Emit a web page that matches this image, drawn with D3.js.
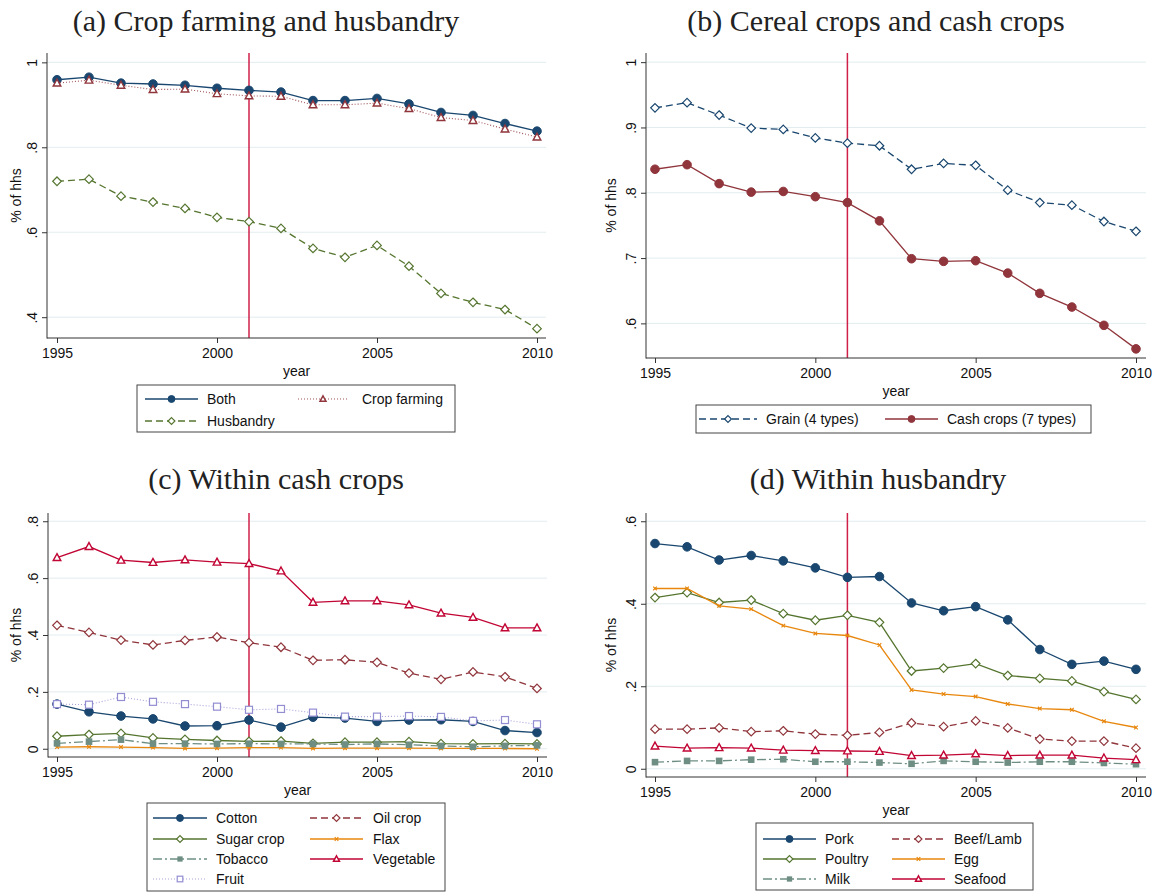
<!DOCTYPE html>
<meta charset="utf-8">
<style>
  body { margin: 0; background: #fff; }
  svg text { font-family: "Liberation Sans", Arial, sans-serif; font-size: 14px; fill: #111; }
  svg text.title { font-family: "Liberation Serif", "Times New Roman", serif; font-size: 30px; fill: #222; }
</style>
<body>
<script src="https://d3js.org/d3.v7.min.js"></script>
<script>

// ---- data ----
var years = [1995, 1996, 1997, 1998, 1999, 2000, 2001, 2002, 2003, 2004, 2005, 2006, 2007, 2008, 2009, 2010];

// (a) crop farming and husbandry
var both        = [0.959, 0.965, 0.951, 0.949, 0.946, 0.939, 0.934, 0.930, 0.910, 0.910, 0.915, 0.902, 0.882, 0.875, 0.856, 0.838];
var cropFarming = [0.951, 0.958, 0.946, 0.936, 0.937, 0.926, 0.921, 0.920, 0.900, 0.900, 0.904, 0.891, 0.870, 0.863, 0.843, 0.824];
var husbandry   = [0.720, 0.725, 0.685, 0.671, 0.656, 0.635, 0.625, 0.609, 0.562, 0.541, 0.569, 0.520, 0.456, 0.435, 0.418, 0.373];

// (b) cereal crops and cash crops
var grain     = [0.930, 0.938, 0.919, 0.899, 0.897, 0.884, 0.876, 0.872, 0.836, 0.845, 0.842, 0.804, 0.785, 0.781, 0.756, 0.741];
var cashCrops = [0.836, 0.843, 0.814, 0.801, 0.802, 0.794, 0.785, 0.757, 0.699, 0.695, 0.696, 0.677, 0.646, 0.625, 0.597, 0.561];

// (c) within cash crops
var cotton    = [0.157, 0.130, 0.115, 0.105, 0.080, 0.081, 0.101, 0.076, 0.111, 0.108, 0.096, 0.101, 0.102, 0.096, 0.064, 0.057];
var oilCrop   = [0.434, 0.409, 0.382, 0.365, 0.381, 0.393, 0.373, 0.357, 0.311, 0.313, 0.304, 0.266, 0.244, 0.270, 0.253, 0.212];
var sugarCrop = [0.044, 0.050, 0.054, 0.038, 0.033, 0.029, 0.026, 0.027, 0.019, 0.023, 0.023, 0.025, 0.018, 0.017, 0.018, 0.017];
var flax      = [0.006, 0.007, 0.006, 0.004, 0.001, 0.002, 0.004, 0.004, 0.001, 0.002, 0.002, 0.002, 0.001, 0.001, 0.001, 0.000];
var tobacco   = [0.019, 0.025, 0.032, 0.018, 0.018, 0.017, 0.018, 0.017, 0.017, 0.015, 0.017, 0.014, 0.010, 0.007, 0.010, 0.012];
var vegetable = [0.672, 0.711, 0.663, 0.655, 0.664, 0.656, 0.651, 0.625, 0.515, 0.520, 0.520, 0.506, 0.477, 0.462, 0.425, 0.425];
var fruit     = [0.157, 0.155, 0.182, 0.165, 0.157, 0.148, 0.137, 0.140, 0.127, 0.113, 0.113, 0.115, 0.112, 0.098, 0.101, 0.086];

// (d) within husbandry
var pork      = [0.546, 0.538, 0.506, 0.517, 0.504, 0.487, 0.464, 0.466, 0.402, 0.383, 0.393, 0.361, 0.289, 0.253, 0.261, 0.241];
var beefLamb  = [0.096, 0.096, 0.099, 0.090, 0.092, 0.084, 0.081, 0.088, 0.111, 0.102, 0.116, 0.099, 0.072, 0.067, 0.067, 0.050];
var poultry   = [0.415, 0.427, 0.403, 0.409, 0.376, 0.360, 0.372, 0.355, 0.237, 0.244, 0.255, 0.226, 0.219, 0.213, 0.187, 0.168];
var egg       = [0.437, 0.437, 0.395, 0.387, 0.347, 0.328, 0.323, 0.300, 0.191, 0.181, 0.175, 0.157, 0.146, 0.143, 0.115, 0.100];
var milk      = [0.016, 0.019, 0.019, 0.022, 0.023, 0.017, 0.017, 0.015, 0.012, 0.019, 0.017, 0.015, 0.017, 0.017, 0.014, 0.011];
var seafood   = [0.055, 0.050, 0.051, 0.050, 0.045, 0.044, 0.043, 0.042, 0.032, 0.033, 0.036, 0.032, 0.033, 0.033, 0.026, 0.022];

var xTicks = [1995, 2000, 2005, 2010];
var reformYear = 2001;

// stata s2color-ish palette
var navy = "#1a476f", maroon = "#90353b", green = "#55752f", orange = "#e8870e",
    teal = "#6e8e84", cranberry = "#c10534", lavender = "#938dd2";
var gridColor = "#e2ecef", vlineColor = "#cf2148";

var svg = d3.select("body").append("svg")
  .attr("width", 1156)
  .attr("height", 892);

function fmtY(v) {
  if (v === 0) return "0";
  if (v === 1) return "1";
  return d3.format(".1f")(v).replace(/^0/, "");
}

// draws one marker centred at (cx, cy); k scales it (legend keys are smaller)
function marker(g, type, cx, cy, color, k) {
  k = k || 1;
  if (type === "circle") {
    g.append("circle").attr("cx", cx).attr("cy", cy).attr("r", 4.3 * k)
      .attr("fill", color).attr("stroke", color);
  } else if (type === "diamond") {
    var s = 4.3 * k;
    g.append("path")
      .attr("d", "M" + cx + "," + (cy - s) + "L" + (cx + s) + "," + cy + "L" + cx + "," + (cy + s) + "L" + (cx - s) + "," + cy + "Z")
      .attr("fill", "#fff").attr("stroke", color).attr("stroke-width", 1.2);
  } else if (type === "triangle") {
    g.append("path")
      .attr("d", "M" + cx + "," + (cy - 4 * k) + "L" + (cx + 3.8 * k) + "," + (cy + 2.9 * k) + "L" + (cx - 3.8 * k) + "," + (cy + 2.9 * k) + "Z")
      .attr("fill", "#fff").attr("stroke", color).attr("stroke-width", 1.4);
  } else if (type === "square") {
    g.append("rect").attr("x", cx - 3.3 * k).attr("y", cy - 3.3 * k).attr("width", 6.6 * k).attr("height", 6.6 * k)
      .attr("fill", color);
  } else if (type === "squareHollow") {
    g.append("rect").attr("x", cx - 3.5 * k).attr("y", cy - 3.5 * k).attr("width", 7 * k).attr("height", 7 * k)
      .attr("fill", "#fff").attr("stroke", color).attr("stroke-width", 1.2);
  } else if (type === "x") {
    g.append("path")
      .attr("d", "M" + (cx - 1.8) + "," + (cy - 1.8) + "L" + (cx + 1.8) + "," + (cy + 1.8) +
                 "M" + (cx + 1.8) + "," + (cy - 1.8) + "L" + (cx - 1.8) + "," + (cy + 1.8))
      .attr("stroke", color).attr("stroke-width", 1.2);
  }
}

function drawPanel(p) {
  var g = svg.append("g");

  var x = d3.scaleLinear().domain([1995, 2010]).range([p.x0, p.x1]);
  var y = d3.scaleLinear().domain(p.yDomain).range([p.bottom, p.top]);

  // title
  g.append("text").attr("class", "title")
    .attr("x", p.titleX).attr("y", p.titleY)
    .attr("text-anchor", "middle")
    .text(p.title);

  // grid
  g.selectAll(".grid").data(p.yTicks).enter().append("line")
    .attr("x1", p.left).attr("x2", p.right)
    .attr("y1", function(d) { return y(d); })
    .attr("y2", function(d) { return y(d); })
    .attr("stroke", gridColor).attr("stroke-width", 1);

  // reform line
  g.append("line")
    .attr("x1", x(reformYear)).attr("x2", x(reformYear))
    .attr("y1", p.top).attr("y2", p.bottom)
    .attr("stroke", vlineColor).attr("stroke-width", 1.5);

  // axes
  var yAxis = g.append("g")
    .attr("transform", "translate(" + p.left + ",0)")
    .call(d3.axisLeft(y).tickValues(p.yTicks).tickFormat(fmtY).tickSize(5).tickSizeOuter(0));
  yAxis.select(".domain").remove();
  yAxis.selectAll("line").attr("stroke", "#333");
  yAxis.selectAll("text")
    .attr("transform", "rotate(-90)")
    .attr("x", 0).attr("y", -10).attr("dy", 0)
    .style("text-anchor", "middle")
    .style("font-size", "14px").style("font-family", "Liberation Sans, Arial, sans-serif");

  var xAxis = g.append("g")
    .attr("transform", "translate(0," + p.bottom + ")")
    .call(d3.axisBottom(x).tickValues(xTicks).tickFormat(d3.format("d")).tickSize(5).tickPadding(5).tickSizeOuter(0));
  xAxis.select(".domain").remove();
  xAxis.selectAll("line").attr("stroke", "#333");
  xAxis.selectAll("text")
    .style("font-size", "14px").style("font-family", "Liberation Sans, Arial, sans-serif");

  g.append("line").attr("x1", p.left).attr("x2", p.left).attr("y1", p.top).attr("y2", p.bottom + 0.5)
    .attr("stroke", "#333");
  g.append("line").attr("x1", p.left).attr("x2", p.right).attr("y1", p.bottom).attr("y2", p.bottom)
    .attr("stroke", "#333");

  // axis titles
  g.append("text")
    .attr("x", (p.left + p.right) / 2).attr("y", p.bottom + 38)
    .attr("text-anchor", "middle").text("year");
  g.append("text")
    .attr("transform", "translate(" + p.yTitleX + "," + ((p.top + p.bottom) / 2) + ") rotate(-90)")
    .attr("text-anchor", "middle").text("% of hhs");

  // series
  var line = d3.line()
    .x(function(d) { return x(d.year); })
    .y(function(d) { return y(d.value); });

  p.series.forEach(function(s) {
    var pts = years.map(function(yr, i) { return {year: yr, value: s.values[i]}; });
    g.append("path").datum(pts)
      .attr("d", line)
      .attr("fill", "none")
      .attr("stroke", s.color)
      .attr("stroke-width", s.width || 1.3)
      .attr("stroke-dasharray", s.dash || null)
      .attr("opacity", s.opacity || 1);
    var mg = g.append("g");
    pts.forEach(function(d) { marker(mg, s.marker, x(d.year), y(d.value), s.color); });
  });

  // legend
  var L = p.legend;
  g.append("rect")
    .attr("x", L.x).attr("y", L.y).attr("width", L.w).attr("height", L.h)
    .attr("fill", "#fff").attr("stroke", "#444").attr("stroke-width", 1);
  L.order.forEach(function(idx, k) {
    var s = p.series[idx];
    var row = Math.floor(k / 2), col = k % 2;
    var c = L.cols[col], ry = L.rows[row];
    g.append("line")
      .attr("x1", c[0]).attr("x2", c[1]).attr("y1", ry).attr("y2", ry)
      .attr("stroke", s.color).attr("stroke-width", s.width || 1.3)
      .attr("stroke-dasharray", s.dash || null)
      .attr("opacity", s.opacity || 1);
    marker(g, s.marker, (c[0] + c[1]) / 2, ry, s.color, 0.8);
    g.append("text").attr("x", c[2]).attr("y", ry).attr("dy", "0.35em").text(s.name);
  });
}

drawPanel({
  title: "(a) Crop farming and husbandry", titleX: 266, titleY: 31,
  left: 47, right: 546, top: 53, bottom: 338, x0: 57, x1: 537,
  yDomain: [0.351, 1.022], yTicks: [0.4, 0.6, 0.8, 1], yTitleX: 21,
  series: [
    {name: "Both", values: both, color: navy, marker: "circle"},
    {name: "Crop farming", values: cropFarming, color: maroon, marker: "triangle", dash: "1,2", width: 1.1, opacity: 0.85},
    {name: "Husbandry", values: husbandry, color: green, marker: "diamond", dash: "7,4"}
  ],
  legend: {x: 137, y: 385, w: 318, h: 47, rows: [399, 421],
           cols: [[145, 198, 207], [298, 348, 362]], order: [0, 1, 2]}
});

drawPanel({
  title: "(b) Cereal crops and cash crops", titleX: 876, titleY: 31,
  left: 646, right: 1146, top: 53, bottom: 358, x0: 655, x1: 1136,
  yDomain: [0.547, 1.014], yTicks: [0.6, 0.7, 0.8, 0.9, 1], yTitleX: 616,
  series: [
    {name: "Grain (4 types)", values: grain, color: navy, marker: "diamond", dash: "7,4"},
    {name: "Cash crops (7 types)", values: cashCrops, color: maroon, marker: "circle"}
  ],
  legend: {x: 696, y: 405, w: 395, h: 28, rows: [419],
           cols: [[699, 757, 766], [885, 938, 947]], order: [0, 1]}
});

drawPanel({
  title: "(c) Within cash crops", titleX: 276, titleY: 489,
  left: 48, right: 547, top: 513, bottom: 757, x0: 57, x1: 537,
  yDomain: [-0.029, 0.829], yTicks: [0, 0.2, 0.4, 0.6, 0.8], yTitleX: 21,
  series: [
    {name: "Cotton", values: cotton, color: navy, marker: "circle"},
    {name: "Oil crop", values: oilCrop, color: maroon, marker: "diamond", dash: "7,4"},
    {name: "Sugar crop", values: sugarCrop, color: green, marker: "diamond"},
    {name: "Flax", values: flax, color: orange, marker: "x"},
    {name: "Tobacco", values: tobacco, color: teal, marker: "square", dash: "9,3,2,3"},
    {name: "Vegetable", values: vegetable, color: cranberry, marker: "triangle"},
    {name: "Fruit", values: fruit, color: lavender, marker: "squareHollow", dash: "1,2", width: 1.1, opacity: 0.8}
  ],
  legend: {x: 147, y: 803, w: 298, h: 88, rows: [818, 839, 859, 879],
           cols: [[153, 207, 216], [310, 363, 373]], order: [0, 1, 2, 3, 4, 5, 6]}
});

drawPanel({
  title: "(d) Within husbandry", titleX: 878, titleY: 489,
  left: 646, right: 1146, top: 513, bottom: 777, x0: 655, x1: 1136,
  yDomain: [-0.02, 0.62], yTicks: [0, 0.2, 0.4, 0.6], yTitleX: 616,
  series: [
    {name: "Pork", values: pork, color: navy, marker: "circle"},
    {name: "Beef/Lamb", values: beefLamb, color: maroon, marker: "diamond", dash: "7,4"},
    {name: "Poultry", values: poultry, color: green, marker: "diamond"},
    {name: "Egg", values: egg, color: orange, marker: "x"},
    {name: "Milk", values: milk, color: teal, marker: "square", dash: "9,3,2,3"},
    {name: "Seafood", values: seafood, color: cranberry, marker: "triangle"}
  ],
  legend: {x: 756, y: 823, w: 277, h: 67, rows: [839, 859, 879],
           cols: [[763, 816, 825], [892, 945, 954]], order: [0, 1, 2, 3, 4, 5]}
});

</script>
</body>
